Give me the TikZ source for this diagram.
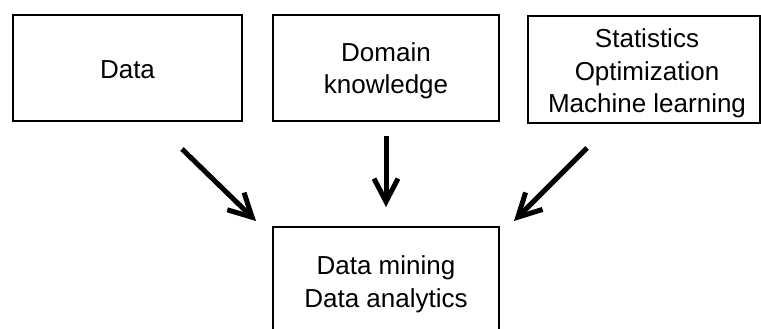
\documentclass[tikz,border=0pt]{standalone}
\usepackage{fontspec}
\setmainfont{Liberation Sans}
\usetikzlibrary{arrows.meta}
\begin{document}
\begin{tikzpicture}[x=1pt,y=-1pt,
  box/.style={draw,line width=2pt,rectangle,inner sep=0pt},
  txt/.style={inner sep=0pt,align=center,font=\fontsize{26}{32.5}\selectfont},
  arr/.style={line width=5pt,
    -{Straight Barb[length=23pt,width=24pt,line width=5pt]}}]
  \useasboundingbox (0,0) rectangle (761,329);
  \clip (0,0) rectangle (761,329);
  % input boxes
  \node[box,minimum width=229pt,minimum height=106pt] (data) at (127.5,68) {};
  \node[box,minimum width=226pt,minimum height=106pt] (dom) at (386,68) {};
  \node[box,minimum width=232pt,minimum height=107pt] (meth) at (643.5,69.5) {};
  % result box (runs past the lower edge)
  \node[box,minimum width=226pt,minimum height=109pt] (res) at (386,281.5) {};
  % box texts
  \node[txt] (tdata) at ([yshift=-2pt]data.center) {Data};
  \node[txt] (tdom) at ([yshift=-3pt]dom.center) {Domain\\knowledge};
  \node[txt] (tmeth) at ([xshift=3.5pt,yshift=-4pt]meth.center) {Statistics\\Optimization\\Machine learning};
  \node[txt] (tres) at ([yshift=-3pt]res.center) {Data mining\\Data analytics};
  % arrow end points
  \coordinate (s1) at ([xshift=54.5pt,yshift=-27pt]data.south);
  \coordinate (e1) at ([xshift=-16pt,yshift=5pt]res.north west);
  \coordinate (s2) at ([yshift=-14pt]dom.south);
  \coordinate (e2) at ([yshift=19pt]res.north);
  \coordinate (s3) at ([xshift=-56.5pt,yshift=-24pt]meth.south);
  \coordinate (e3) at ([xshift=14pt,yshift=5pt]res.north east);
  \draw[arr] (s1) -- (e1);
  \draw[arr] (s2) -- (e2);
  \draw[arr] (s3) -- (e3);
\end{tikzpicture}
\end{document}
